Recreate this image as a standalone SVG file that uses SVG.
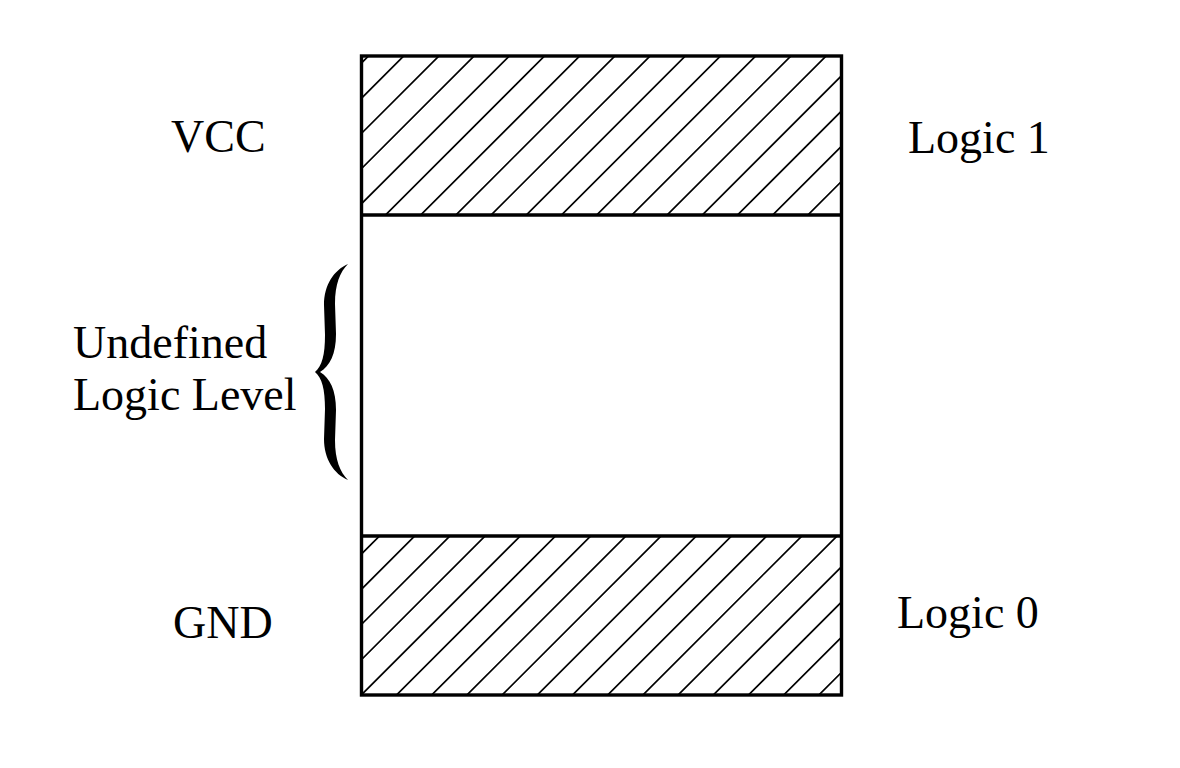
<svg xmlns="http://www.w3.org/2000/svg" width="1180" height="768" viewBox="0 0 1180 768">
  <style>
    .lbl { font-family: "Liberation Serif", "Times New Roman", serif; font-size: 46px; fill: #000; }
    .box { fill: none; stroke: #000; stroke-width: 3.4; }
    .hatch { fill: none; stroke: #000; stroke-width: 1.7; }
  </style>
  <defs>
    <clipPath id="clipTop"><rect x="361.5" y="56" width="480" height="159"/></clipPath>
    <clipPath id="clipBot"><rect x="361.5" y="536" width="480" height="159"/></clipPath>
  </defs>
  <rect width="1180" height="768" fill="#fff"/>

  <g id="logic1-region" clip-path="url(#clipTop)">
    <path class="hatch" d="M374.5 50 L204.5 220 M409.7 50 L239.7 220 M444.9 50 L274.9 220 M480.1 50 L310.1 220 M515.3 50 L345.3 220 M550.5 50 L380.5 220 M585.7 50 L415.7 220 M620.9 50 L450.9 220 M656.1 50 L486.1 220 M691.3 50 L521.3 220 M726.5 50 L556.5 220 M761.7 50 L591.7 220 M796.9 50 L626.9 220 M832.1 50 L662.1 220 M867.3 50 L697.3 220 M902.5 50 L732.5 220 M937.7 50 L767.7 220 M972.9 50 L802.9 220"/>
  </g>
  <g id="logic0-region" clip-path="url(#clipBot)">
    <path class="hatch" d="M385.5 530 L215.5 700 M420.7 530 L250.7 700 M455.9 530 L285.9 700 M491.1 530 L321.1 700 M526.3 530 L356.3 700 M561.5 530 L391.5 700 M596.7 530 L426.7 700 M631.9 530 L461.9 700 M667.1 530 L497.1 700 M702.3 530 L532.3 700 M737.5 530 L567.5 700 M772.7 530 L602.7 700 M807.9 530 L637.9 700 M843.1 530 L673.1 700 M878.3 530 L708.3 700 M913.5 530 L743.5 700 M948.7 530 L778.7 700 M983.9 530 L813.9 700"/>
  </g>
  <g id="frame">
    <rect class="box" x="361.5" y="56" width="480" height="639"/>
    <line class="box" x1="361.5" y1="215" x2="841.5" y2="215"/>
    <line class="box" x1="361.5" y1="536" x2="841.5" y2="536"/>
  </g>

  <g id="brace">
    <path fill="#000" d="M 348 264 C 334 270, 324 285, 324 305 L 325 335 C 325 355, 322 366, 315 372 C 322 378, 325 389, 325 409 L 324 439 C 324 459, 334 474, 348 480 C 340 472, 335 460, 335 440 L 336 410 C 336 390, 330 378, 320 372 C 330 366, 336 354, 336 334 L 335 304 C 335 284, 340 272, 348 264 Z"/>
  </g>

  <g id="label-vcc"><text class="lbl" x="171" y="152">VCC</text></g>
  <g id="label-logic1"><text class="lbl" x="908" y="153">Logic 1</text></g>
  <g id="label-undefined">
    <text class="lbl" x="73" y="358">Undefined</text>
    <text class="lbl" x="73" y="410">Logic Level</text>
  </g>
  <g id="label-gnd"><text class="lbl" x="173" y="638">GND</text></g>
  <g id="label-logic0"><text class="lbl" x="897" y="628">Logic 0</text></g>
</svg>
